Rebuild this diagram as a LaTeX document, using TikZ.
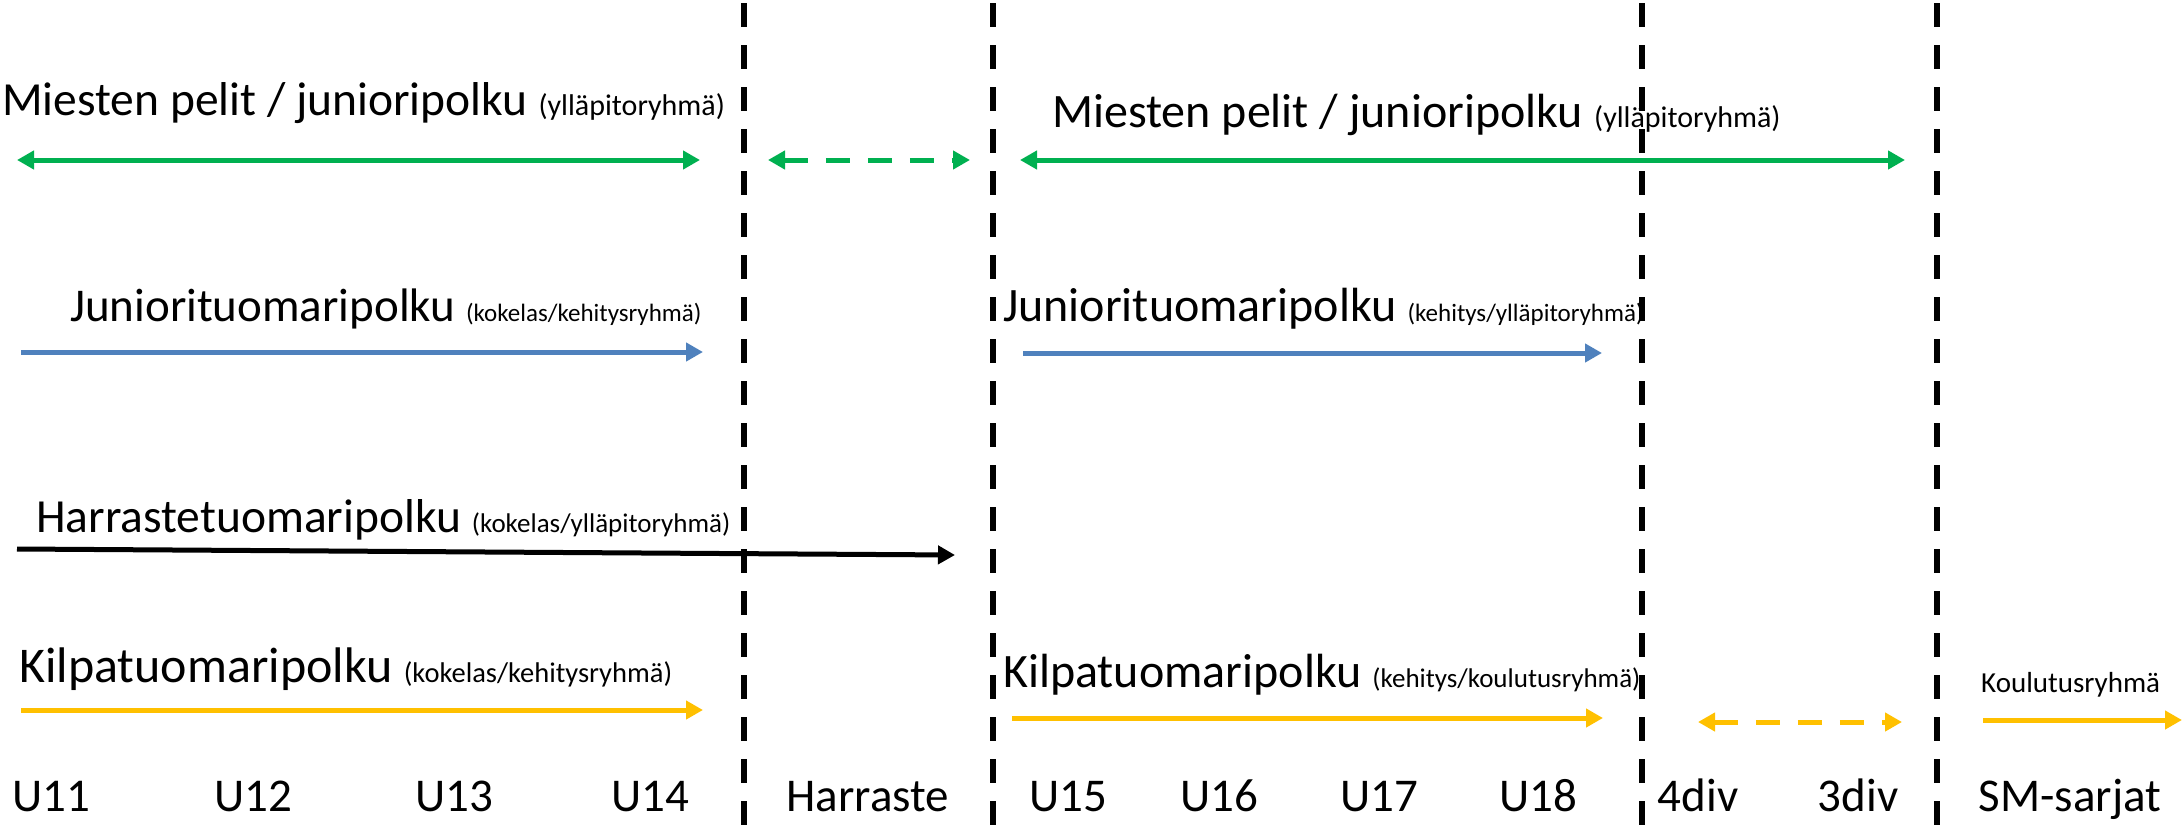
\documentclass[tikz,border=0pt]{standalone}
\usepackage{fontspec}
\setmainfont{Carlito}
\usetikzlibrary{arrows.meta}
\definecolor{pgreen}{HTML}{00B050}
\definecolor{pblue}{HTML}{4F81BD}
\definecolor{porange}{HTML}{FFC000}
\newcommand\twotxt[4]{{\fontsize{#1}{#1}\selectfont #2\ }{\fontsize{#3}{#3}\selectfont #4}}
\begin{document}
\begin{tikzpicture}[x=1pt,y=-1pt,
  bigtxt/.style={anchor=base west, inner sep=0pt},
  agetxt/.style={font=\fontsize{47}{56}\selectfont, anchor=base, inner sep=0pt},
  path/.style={line width=5pt, -{Triangle[length=17pt,width=18pt]}},
  dpath/.style={line width=5pt, {Triangle[length=17pt,width=18pt]}-{Triangle[length=17pt,width=18pt]}},
  dashedpath/.style={dpath, dash pattern=on 24pt off 18pt},
  divider/.style={line width=6pt, black, dash pattern=on 24pt off 18pt}]
\useasboundingbox (0,0) rectangle (2182,827);

% dividers
\foreach \x/\n in {744/d1, 993/d2, 1642/d3, 1937/d4}{
  \coordinate (\n t) at (\x,3);
  \coordinate (\n b) at (\x,827);
  \draw[divider] (\n t) -- (\n b);
}

% texts
\node[bigtxt] (t1) at (2,115) {\twotxt{47.5}{Miesten pelit / junioripolku}{30}{(ylläpitoryhmä)}};
\node[bigtxt] (t2) at (1052,127) {\twotxt{48}{Miesten pelit / junioripolku}{30}{(ylläpitoryhmä)}};
\node[bigtxt] (t3) at (70,321) {\twotxt{47}{Juniorituomaripolku}{25}{(kokelas/kehitysryhmä)}};
\node[bigtxt] (t4) at (1003,321) {\twotxt{48}{Juniorituomaripolku}{25}{(kehitys/ylläpitoryhmä)}};
\node[bigtxt] (t5) at (36,532) {\twotxt{47.5}{Harrastetuomaripolku}{27}{(kokelas/ylläpitoryhmä)}};
\node[bigtxt] (t6) at (19,682) {\twotxt{50}{Kilpatuomaripolku}{28.5}{(kokelas/kehitysryhmä)}};
\node[bigtxt] (t7) at (1003,687) {\twotxt{48}{Kilpatuomaripolku}{27}{(kehitys/koulutusryhmä)}};
\node[anchor=base west, inner sep=0pt, font=\fontsize{29}{34}\selectfont] (t8) at (1981,692) {Koulutusryhmä};

% age labels
\foreach \x/\t/\n in {51/U11/u11, 253/U12/u12, 454/U13/u13, 650/U14/u14, 868/Harraste/harr,
  1068/U15/u15, 1219/U16/u16, 1379/U17/u17, 1538/U18/u18, 1698/4div/div4, 1858/3div/div3, 2070/SM-sarjat/sm}{
  \node[agetxt] (\n) at (\x,811) {\t};
}

% arrow end points
\coordinate (g1a) at (17,160);   \coordinate (g1b) at (700,160);
\coordinate (g2a) at (768,160);  \coordinate (g2b) at (970,160);
\coordinate (g3a) at (1020,160); \coordinate (g3b) at (1905,160);
\coordinate (b1a) at (21,352);   \coordinate (b1b) at (703,352);
\coordinate (b2a) at (1023,353); \coordinate (b2b) at (1602,353);
\coordinate (k1a) at (17,549);   \coordinate (k1b) at (955,555);
\coordinate (o1a) at (21,710);   \coordinate (o1b) at (703,710);
\coordinate (o2a) at (1012,718); \coordinate (o2b) at (1603,718);
\coordinate (o3a) at (1698,722); \coordinate (o3b) at (1902,722);
\coordinate (o4a) at (1983,720); \coordinate (o4b) at (2182,720);

\draw[dpath, pgreen] (g1a) -- (g1b);
\draw[dashedpath, pgreen] (g2a) -- (g2b);
\draw[dpath, pgreen] (g3a) -- (g3b);
\draw[path, pblue] (b1a) -- (b1b);
\draw[path, pblue] (b2a) -- (b2b);
\draw[path, black] (k1a) -- (k1b);
\draw[path, porange] (o1a) -- (o1b);
\draw[path, porange] (o2a) -- (o2b);
\draw[dashedpath, porange] (o3a) -- (o3b);
\draw[path, porange] (o4a) -- (o4b);
\end{tikzpicture}
\end{document}
